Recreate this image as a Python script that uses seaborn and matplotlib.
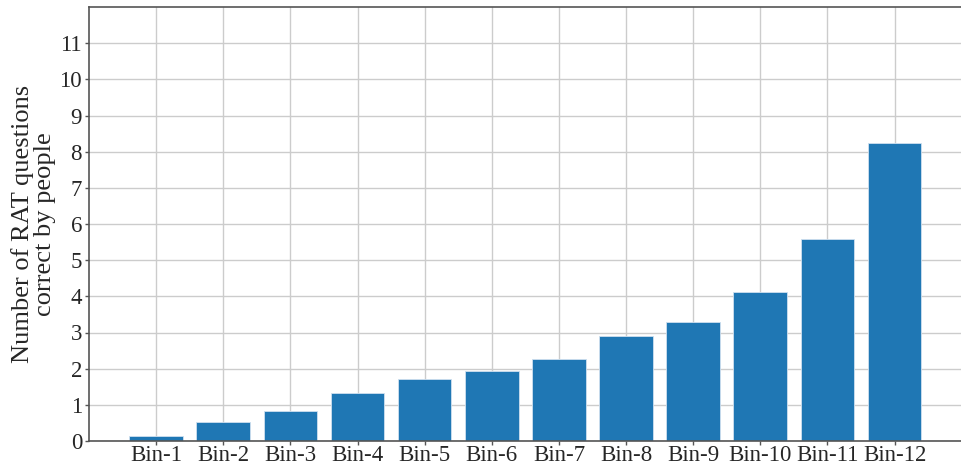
import seaborn as sns
import matplotlib.pyplot as plt
import pandas as pd

bins = ['Bin-1', 'Bin-2', 'Bin-3', 'Bin-4', 'Bin-5', 'Bin-6',
        'Bin-7', 'Bin-8', 'Bin-9', 'Bin-10', 'Bin-11', 'Bin-12']
correct = [0.15, 0.52, 0.84, 1.32, 1.72, 1.93, 2.26, 2.89, 3.30, 4.13, 5.58, 8.24]

df = pd.DataFrame({'bin': bins, 'correct': correct})

sns.set_style('whitegrid')
plt.rcParams['font.family'] = ['Liberation Serif', 'DejaVu Serif']

fig = plt.figure(figsize=(9.61, 4.67), dpi=100)
ax = fig.add_axes([89 / 961, 26 / 467, 876 / 961, 434 / 467])

sns.barplot(x='bin', y='correct', data=df, color='#1f77b4', saturation=1,
            width=0.8, edgecolor='#cfe0ef', linewidth=0.6, ax=ax)

ax.set_xlim(-1, 12.05)
ax.set_ylim(0, 12)
ax.set_yticks(range(0, 12))
ax.grid(True, color='#cccccc', linewidth=1)
ax.set_axisbelow(True)
for side in ['left', 'bottom', 'top']:
    ax.spines[side].set_color('#555555')
    ax.spines[side].set_linewidth(1.2)
ax.spines['right'].set_visible(False)
ax.tick_params(axis='both', which='both', direction='out', length=3, width=1,
               color='#555555', labelsize=16.5, bottom=True, left=True)
ax.tick_params(axis='x', pad=0)
ax.tick_params(axis='y', pad=2)
ax.set_xlabel('')
ax.set_ylabel('Number of RAT questions\ncorrect by people', fontsize=19, linespacing=1.0)
ax.yaxis.set_label_coords(-0.038, 0.5)

fig.savefig('out.png', dpi=100)
